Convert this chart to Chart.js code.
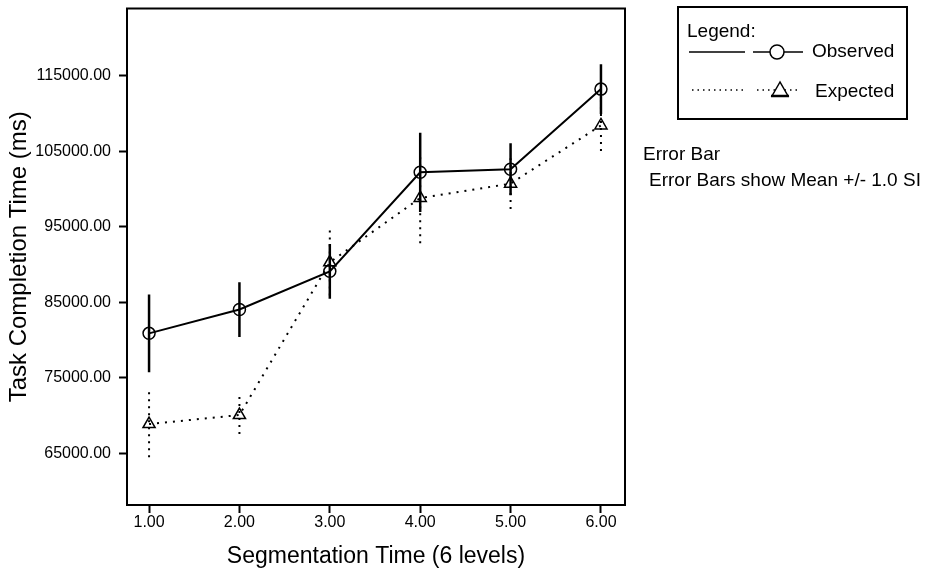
<!DOCTYPE html>
<html>
<head>
<meta charset="utf-8">
<script src="https://cdn.jsdelivr.net/npm/chart.js@4.4.1/dist/chart.umd.min.js"></script>
<style>
  body { margin: 0; background: #fff; font-family: "Liberation Sans", Arial, sans-serif; }
  #wrap { position: relative; width: 941px; height: 572px; overflow: hidden; }
  #legendBox { position: absolute; left: 677px; top: 6px; width: 227px; height: 110px; border: 2px solid #000; }
  .lg { position: absolute; font-size: 19px; line-height: 19px; color: #000; white-space: nowrap; }
  .note { position: absolute; font-size: 19px; line-height: 19px; color: #000; white-space: nowrap; }
</style>
</head>
<body>
<div id="wrap">
  <canvas id="grafico" width="941" height="572"></canvas>
  <div id="legendBox">
    <div class="lg" style="left:8px;top:13px;">Legend:</div>
    <svg style="position:absolute;left:0;top:30px;" width="140" height="70">
      <line x1="10" y1="14" x2="66" y2="14" stroke="#000" stroke-width="1.5"/>
      <line x1="74" y1="14" x2="124" y2="14" stroke="#000" stroke-width="1.5"/>
      <circle cx="98" cy="14" r="7" fill="#fff" stroke="#000" stroke-width="1.5"/>
      <line x1="13" y1="52" x2="64" y2="52" stroke="#000" stroke-width="1.5" stroke-dasharray="1.5 4"/>
      <line x1="78" y1="52" x2="122" y2="52" stroke="#000" stroke-width="1.5" stroke-dasharray="1.5 4"/>
      <polygon points="101,44 93,58 109,58" fill="#fff" stroke="#000" stroke-width="1.5"/>
      <line x1="92" y1="58" x2="110" y2="58" stroke="#000" stroke-width="2.5"/>
    </svg>
    <div class="lg" style="left:133px;top:33px;">Observed</div>
    <div class="lg" style="left:136px;top:73px;">Expected</div>
  </div>
  <div class="note" style="left:643px;top:144px;">Error Bar</div>
  <div class="note" style="left:649px;top:170px;">Error Bars show Mean +/- 1.0 SI</div>
</div>
<script>
  // datos
  const niveles = [1, 2, 3, 4, 5, 6];
  const observado = [80900, 84050, 89100, 102200, 102600, 113200];
  const observadoSD = [5150, 3620, 3620, 5240, 3440, 3290];
  const esperado = [68900, 70100, 90300, 98800, 100700, 108400];
  const esperadoSD = [4390, 2520, 4400, 6000, 3370, 3400];
  const ticksX = [1, 2, 3, 4, 5, 6];
  const ticksY = [65000, 75000, 85000, 95000, 105000, 115000];

  function puntos(ys) {
    return niveles.map((x, i) => ({ x: x, y: ys[i] }));
  }

  // cada barra de error: dos puntos y un hueco (null) para cortar la linea
  function barras(ys, sd) {
    const out = [];
    niveles.forEach((x, i) => {
      out.push({ x: x, y: ys[i] - sd[i] });
      out.push({ x: x, y: ys[i] + sd[i] });
      out.push({ x: x, y: null });
    });
    return out;
  }

  const marco = {
    id: 'marco',
    afterDraw(chart) {
      const a = chart.chartArea;
      const ctx = chart.ctx;
      ctx.save();
      ctx.strokeStyle = '#000';
      ctx.lineWidth = 2;
      ctx.strokeRect(a.left, a.top, a.right - a.left, a.bottom - a.top);
      ctx.restore();
    }
  };

  const fuente = { family: '"Liberation Sans", Arial, sans-serif' };

  new Chart(document.getElementById('grafico').getContext('2d'), {
    type: 'line',
    data: {
      datasets: [
        {
          label: 'Observed SD',
          data: barras(observado, observadoSD),
          borderColor: '#000',
          borderWidth: 2.5,
          pointRadius: 0,
          spanGaps: false
        },
        {
          label: 'Expected SD',
          data: barras(esperado, esperadoSD),
          borderColor: '#000',
          borderWidth: 2,
          borderDash: [2, 5],
          pointRadius: 0,
          spanGaps: false
        },
        {
          label: 'Observed',
          data: puntos(observado),
          borderColor: '#000',
          borderWidth: 2,
          pointStyle: 'circle',
          pointRadius: 6,
          pointBorderWidth: 1.5,
          pointBackgroundColor: 'rgba(255,255,255,0)',
          pointBorderColor: '#000'
        },
        {
          label: 'Expected',
          data: puntos(esperado),
          borderColor: '#000',
          borderWidth: 2,
          borderDash: [2, 6],
          pointStyle: 'triangle',
          pointRadius: 7,
          pointBorderWidth: 1.5,
          pointBackgroundColor: 'rgba(255,255,255,0)',
          pointBorderColor: '#000'
        }
      ]
    },
    options: {
      responsive: false,
      animation: false,
      layout: { padding: { top: 6, right: 316, left: 0, bottom: 0 } },
      plugins: {
        legend: { display: false },
        tooltip: { enabled: false }
      },
      scales: {
        x: {
          type: 'linear',
          min: 0.756,
          max: 6.266,
          afterBuildTicks: (s) => { s.ticks = ticksX.map(v => ({ value: v })); },
          afterFit: (s) => { s.height = 67; s.paddingLeft = 0; s.paddingRight = 0; },
          ticks: {
            color: '#000',
            padding: 0,
            font: { ...fuente, size: 16 },
            callback: (v) => Number(v).toFixed(2)
          },
          grid: { drawOnChartArea: false, drawTicks: true, tickLength: 8, tickWidth: 2, tickColor: '#000' },
          border: { display: false },
          title: {
            display: true,
            text: 'Segmentation Time (6 levels)',
            color: '#000',
            font: { ...fuente, size: 23 },
            padding: { top: 0, bottom: 2 }
          }
        },
        y: {
          type: 'linear',
          min: 58200,
          max: 123860,
          afterBuildTicks: (s) => { s.ticks = ticksY.map(v => ({ value: v })); },
          afterFit: (s) => { s.width = 127; s.paddingTop = 0; s.paddingBottom = 0; },
          ticks: {
            color: '#000',
            padding: 8,
            font: { ...fuente, size: 16 },
            callback: (v) => Number(v).toFixed(2)
          },
          grid: { drawOnChartArea: false, drawTicks: true, tickLength: 8, tickWidth: 2, tickColor: '#000' },
          border: { display: false },
          title: {
            display: true,
            text: 'Task Completion Time (ms)',
            color: '#000',
            font: { ...fuente, size: 24 },
            padding: { top: 5, bottom: 0 }
          }
        }
      }
    },
    plugins: [marco]
  });
</script>
</body>
</html>
